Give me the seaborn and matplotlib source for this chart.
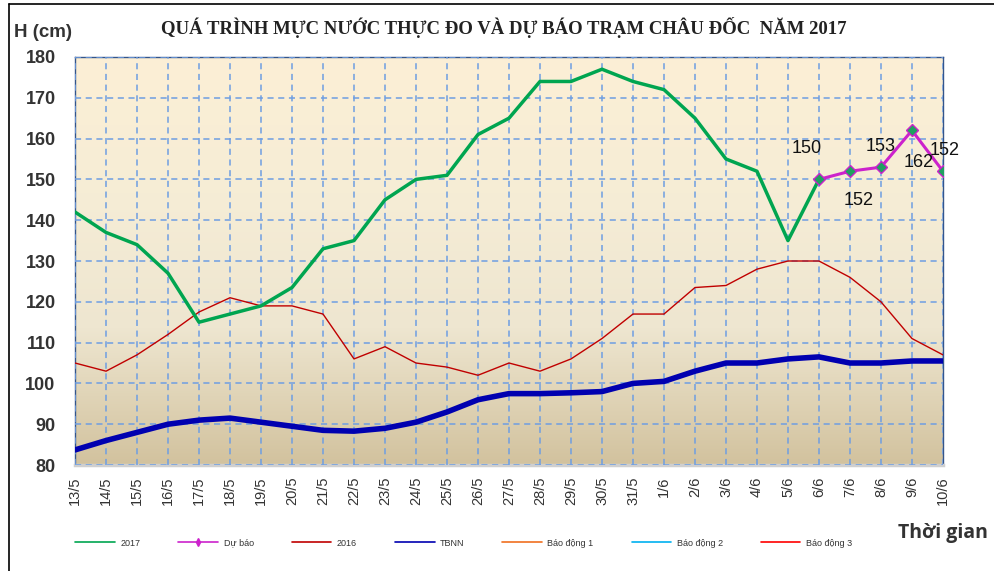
import numpy as np
import pandas as pd
import matplotlib
matplotlib.use("Agg")
import matplotlib.pyplot as plt
import seaborn as sns
from matplotlib.lines import Line2D

# ===== DATA =====
days = ["13/5", "14/5", "15/5", "16/5", "17/5", "18/5", "19/5", "20/5", "21/5",
        "22/5", "23/5", "24/5", "25/5", "26/5", "27/5", "28/5", "29/5", "30/5",
        "31/5", "1/6", "2/6", "3/6", "4/6", "5/6", "6/6", "7/6", "8/6", "9/6", "10/6"]

h2017 = [142, 137, 134, 127, 115, 117, 119, 123.5, 133, 135, 145, 150, 151, 161,
         165, 174, 174, 177, 174, 172, 165, 155, 152, 135, 150]
du_bao_days = ["6/6", "7/6", "8/6", "9/6", "10/6"]
du_bao = [150, 152, 153, 162, 152]
h2016 = [105, 103, 107, 112, 117.5, 121, 119, 119, 117, 106, 109, 105, 104, 102,
         105, 103, 106, 111, 117, 117, 123.5, 124, 128, 130, 130, 126, 120, 111, 107]
tbnn = [83.7, 86, 88, 90, 91, 91.5, 90.5, 89.5, 88.5, 88.3, 89, 90.5, 93, 96,
        97.5, 97.5, 97.7, 98, 100, 100.5, 103, 105, 105, 106, 106.5, 105, 105, 105.5, 105.5]
alarm_names = ["Báo động 1", "Báo động 2", "Báo động 3"]
alarm_levels = [350, 400, 450]  # out of the shown range

# ===== STYLE =====
sns.set_style("white")
plt.rcParams["font.family"] = ["Liberation Sans", "DejaVu Sans"]

c2017 = "#00A550"
cdb = "#CC22CC"
c2016 = "#C00000"
ctb = "#0000B0"
alarm_colors = ["#F07020", "#00B0F0", "#FF0000"]

fig = plt.figure(figsize=(9.95, 5.71), dpi=100)
ax = fig.add_axes([0.0754, 0.1856, 0.8723, 0.7146])

# gradient background (bottom tan -> top cream)
grad = np.linspace(0, 1, 256).reshape(-1, 1)
cmap = matplotlib.colors.LinearSegmentedColormap.from_list(
    "bg", ["#D2C29E", "#EEE6D0", "#F6EDD6", "#FCEFD5"])
ax.imshow(grad, aspect="auto", cmap=cmap, origin="lower",
          extent=[0, 28, 80, 180], zorder=0)

x_all = np.arange(len(days))
df2016 = pd.DataFrame({"x": x_all, "h": h2016})
dftb = pd.DataFrame({"x": x_all, "h": tbnn})
df2017 = pd.DataFrame({"x": x_all[:len(h2017)], "h": h2017})
dfdb = pd.DataFrame({"x": [days.index(d) for d in du_bao_days], "h": du_bao})

sns.lineplot(data=dftb, x="x", y="h", ax=ax, color=ctb, lw=4.0, zorder=3)
sns.lineplot(data=df2016, x="x", y="h", ax=ax, color=c2016, lw=1.0, zorder=3)
sns.lineplot(data=df2017, x="x", y="h", ax=ax, color=c2017, lw=2.5, zorder=4)
sns.lineplot(data=dfdb, x="x", y="h", ax=ax, color=cdb, lw=2.2, zorder=5,
             marker="D", markersize=6, markerfacecolor="#1FA060",
             markeredgecolor=cdb, markeredgewidth=1.0)
for lvl, col in zip(alarm_levels, alarm_colors):
    ax.axhline(lvl, color=col, lw=1.2)

# data labels
offsets = [(-9, 22), (6, -21), (0, 15), (5, -23), (1, 15)]
for (xv, yv), off in zip(dfdb[["x", "h"]].values, offsets):
    ax.annotate(f"{int(yv)}", (xv, yv), xytext=off, textcoords="offset points",
                ha="center", va="center", fontsize=13, color="#111111", zorder=6,
                annotation_clip=False)

ax.set_xlim(0, 28)
ax.set_ylim(80, 180)
ax.set_xticks(x_all)
ax.set_xticklabels(days, rotation=90, fontsize=10.5, color="#333333")
ax.set_yticks(range(80, 181, 10))
ax.set_yticklabels([str(v) for v in range(80, 181, 10)], fontsize=13,
                   fontweight="bold", color="#333333")
ax.tick_params(axis="x", length=0, pad=8)
ax.tick_params(axis="y", length=0, pad=14)
ax.set_xlabel("")
ax.set_ylabel("")
ax.grid(True, color="#6E9EE2", ls=(0, (4, 3)), lw=1.1, zorder=1)
ax.set_axisbelow(False)
for s in ["left", "right", "top"]:
    ax.spines[s].set_color("#34558A")
    ax.spines[s].set_linewidth(1.0)
ax.spines["bottom"].set_color("#CFCFCF")
ax.spines["bottom"].set_linewidth(2.5)

# texts
fig.text(0.506, 0.951, "QUÁ TRÌNH MỰC NƯỚC THỰC ĐO VÀ DỰ BÁO TRẠM CHÂU ĐỐC  NĂM 2017",
         ha="center", va="center", fontsize=13.5, fontweight="bold",
         family=["Liberation Serif", "DejaVu Serif"], color="#222222")
fig.text(0.014, 0.943, "H (cm)", ha="left", va="center", fontsize=13.5,
         fontweight="bold", color="#333333")
fig.text(0.993, 0.066, "Thời gian", ha="right", va="center", fontsize=14,
         fontweight="bold", color="#333333",
         family=["Open Sans", "DejaVu Sans"])

# legend
handles = [
    Line2D([], [], color=c2017, lw=1.2),
    Line2D([], [], color=cdb, lw=1.2, marker="d", markersize=4),
    Line2D([], [], color=c2016, lw=1.2),
    Line2D([], [], color=ctb, lw=1.2),
] + [Line2D([], [], color=c, lw=1.2) for c in alarm_colors]
labels = ["2017", "Dự báo", "2016", "TBNN"] + alarm_names
fig.legend(handles, labels, loc="center", bbox_to_anchor=(0.466, 0.049), ncol=7,
           frameon=False, fontsize=6.5, handlelength=4.4, columnspacing=4.2,
           handletextpad=0.6, labelcolor="#333333")

# outer frame
fig.add_artist(Line2D([0.009, 0.009], [0.0, 0.993], color="black", lw=1.2,
                      transform=fig.transFigure))
fig.add_artist(Line2D([0.009, 1.0], [0.993, 0.993], color="black", lw=1.2,
                      transform=fig.transFigure))

fig.savefig("out.png", dpi=100)
